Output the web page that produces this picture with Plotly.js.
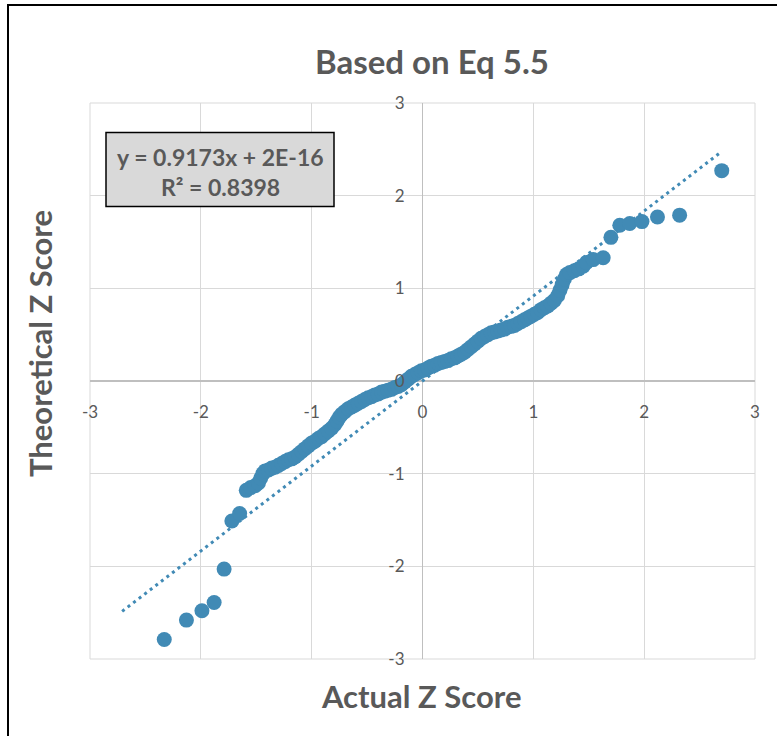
<!DOCTYPE html>
<html>
<head>
<meta charset="utf-8">
<script src="https://cdn.plot.ly/plotly-3.0.1.min.js"></script>
<style>
html,body{margin:0;padding:0;background:#fff;}
#chart{width:777px;height:736px;}
</style>
</head>
<body>
<div id="chart"></div>
<script>
// Actual Z score (x) and theoretical Z score (y)
const actualZ = [
 -2.33,-2.13,-1.99,-1.88,-1.79,-1.72,-1.65,-1.59,-1.55,-1.51,
 -1.48,-1.46,-1.44,-1.42,-1.39,-1.36,-1.33,-1.30,-1.27,-1.24,
 -1.21,-1.18,-1.15,-1.12,-1.09,-1.06,-1.03,-1.00,-0.97,-0.94,
 -0.91,-0.88,-0.85,-0.82,-0.79,-0.77,-0.75,-0.73,-0.70,-0.67,
 -0.64,-0.61,-0.58,-0.55,-0.52,-0.49,-0.46,-0.43,-0.40,-0.37,
 -0.34,-0.31,-0.28,-0.25,-0.22,-0.19,-0.16,-0.13,-0.10,-0.07,
 -0.04,-0.01,0.02,0.05,0.08,0.11,0.14,0.17,0.20,0.23,
 0.26,0.29,0.32,0.35,0.38,0.41,0.44,0.47,0.50,0.53,
 0.56,0.59,0.62,0.65,0.68,0.71,0.74,0.77,0.80,0.83,
 0.86,0.89,0.92,0.95,0.98,1.01,1.04,1.07,1.10,1.13,
 1.16,1.19,1.22,1.24,1.26,1.28,1.30,1.33,1.37,1.41,
 1.45,1.48,1.54,1.63,1.70,1.78,1.87,1.98,2.12,2.32,
 2.70
];
const theoreticalZ = [
 -2.79,-2.58,-2.48,-2.39,-2.03,-1.51,-1.43,-1.18,-1.15,-1.13,
 -1.10,-1.05,-1.00,-0.97,-0.96,-0.94,-0.93,-0.91,-0.89,-0.87,
 -0.85,-0.84,-0.82,-0.79,-0.76,-0.73,-0.70,-0.67,-0.65,-0.62,
 -0.60,-0.57,-0.54,-0.51,-0.47,-0.43,-0.39,-0.36,-0.33,-0.30,
 -0.28,-0.26,-0.24,-0.22,-0.20,-0.18,-0.17,-0.15,-0.14,-0.12,
 -0.11,-0.10,-0.09,-0.07,-0.06,-0.04,-0.01,0.02,0.05,0.07,
 0.09,0.11,0.12,0.14,0.16,0.17,0.19,0.20,0.21,0.22,
 0.24,0.25,0.27,0.29,0.31,0.34,0.37,0.40,0.43,0.46,
 0.48,0.50,0.52,0.53,0.54,0.55,0.56,0.58,0.59,0.60,
 0.62,0.64,0.66,0.68,0.70,0.72,0.74,0.77,0.79,0.81,
 0.84,0.87,0.92,0.98,1.04,1.10,1.15,1.17,1.19,1.21,
 1.24,1.28,1.31,1.33,1.55,1.68,1.70,1.72,1.77,1.79,
 2.27
];
// Linear trendline: y = 0.9173x + 2E-16
const trendSlope = 0.9173;
const trendIntercept = 2e-16;
const trendX = [-2.71, 2.70];
const trendY = trendX.map(v => trendSlope * v + trendIntercept);
const tickVals = [-3,-2,-1,0,1,2,3];
const tickText = ['-3','-2','-1','0','1','2','3'];

const blue = '#418AB5';
const txt = '#595959';
const FONT = 'Lato, "Open Sans", sans-serif';

const data = [
  {x: trendX, y: trendY, type:'scatter', mode:'lines',
   line:{color: blue, width:3, dash:'3px,4px'}, hoverinfo:'skip'},
  {x: actualZ, y: theoreticalZ, type:'scatter', mode:'markers',
   marker:{color: blue, size:15}}
];

const layout = {
  width:777, height:736, autosize:false,
  margin:{l:90, r:22, t:103, b:77, pad:0},
  paper_bgcolor:'#fff', plot_bgcolor:'#fff',
  showlegend:false,
  font:{family: FONT, color: txt, size:17},
  title:{text:'<b>Based on Eq 5.5</b>', font:{family:FONT, size:33, color:txt},
         x:432/777, xanchor:'center', xref:'container', y:1-62/736, yanchor:'middle', yref:'container'},
  xaxis:{range:[-3,3], tickvals:tickVals, ticktext:tickText, anchor:'free', position:0.5,
         showgrid:true, gridcolor:'#d9d9d9', gridwidth:1,
         zeroline:true, zerolinecolor:'#bfbfbf', zerolinewidth:1.5,
         showline:false, ticks:'', ticklabelstandoff:19,
         tickfont:{family:FONT, size:17, color:txt}, fixedrange:true},
  yaxis:{range:[-3,3], tickvals:tickVals, ticktext:tickText, anchor:'free', position:0.5,
         showgrid:true, gridcolor:'#d9d9d9', gridwidth:1,
         zeroline:true, zerolinecolor:'#bfbfbf', zerolinewidth:1.5,
         showline:false, ticks:'', ticklabelstandoff:18,
         tickfont:{family:FONT, size:17, color:txt}, fixedrange:true},
  shapes:[
    {type:'rect', xref:'paper', yref:'paper', x0:0, x1:1, y0:0, y1:1,
     line:{color:'#d9d9d9', width:1}, layer:'below'},
    {type:'rect', xref:'paper', yref:'paper',
     x0:(106-90)/665, x1:(334-90)/665, y0:(659-206.5)/556, y1:(659-132.5)/556,
     fillcolor:'#d9d9d9', line:{color:'#000', width:1.5}, layer:'above'},
    {type:'line', xref:'paper', yref:'paper',
     x0:(8-90)/665, x1:(8-90)/665, y0:(659-4)/556, y1:(659-740)/556,
     line:{color:'#000', width:2}},
    {type:'line', xref:'paper', yref:'paper',
     x0:(7-90)/665, x1:(780-90)/665, y0:(659-5)/556, y1:(659-5)/556,
     line:{color:'#000', width:2}}
  ],
  annotations:[
    {text:'<b>y = 0.9173x + 2E-16</b>', xref:'paper', yref:'paper',
     x:(220-90)/665, y:(659-157)/556, xanchor:'center', yanchor:'middle', showarrow:false,
     font:{family:FONT, size:23, color:txt}},
    {text:'<b>R² = 0.8398</b>', xref:'paper', yref:'paper',
     x:(220-90)/665, y:(659-187)/556, xanchor:'center', yanchor:'middle', showarrow:false,
     font:{family:FONT, size:23, color:txt}},
    {text:'<b>Actual Z Score</b>', xref:'paper', yref:'paper',
     x:(421-90)/665, y:(659-696)/556, xanchor:'center', yanchor:'middle', showarrow:false,
     font:{family:FONT, size:31, color:txt}},
    {text:'<b>Theoretical Z Score</b>', xref:'paper', yref:'paper', textangle:-90,
     x:(40-90)/665, y:(659-344)/556, xanchor:'center', yanchor:'middle', showarrow:false,
     font:{family:FONT, size:31, color:txt}}
  ]
};

Plotly.newPlot('chart', data, layout, {displayModeBar:false, staticPlot:true});
</script>
</body>
</html>
